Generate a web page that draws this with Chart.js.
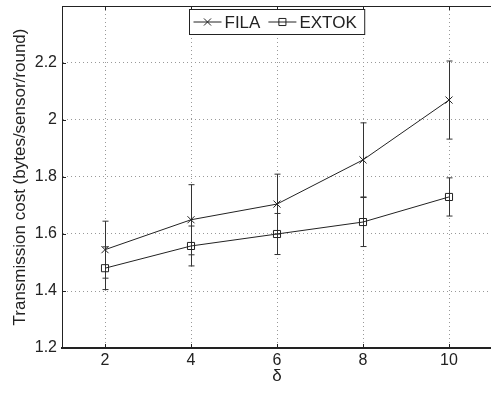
<!DOCTYPE html>
<html>
<head>
<meta charset="utf-8">
<script src="https://cdn.jsdelivr.net/npm/chart.js@4.4.1/dist/chart.umd.min.js"></script>
<style>
  html, body { margin: 0; padding: 0; overflow: hidden; background: #fff; }
  #wrap { width: 498px; height: 393px; }
</style>
</head>
<body>
<div id="wrap"><canvas id="chart1"></canvas></div>
<script>
// values
const deltas = [2, 4, 6, 8, 10];
const filaCost = [1.545, 1.65, 1.705, 1.86, 2.07];
const filaErr = [0.10, 0.123, 0.105, 0.13, 0.137];
const extokCost = [1.48, 1.558, 1.60, 1.642, 1.73];
const extokErr = [0.075, 0.07, 0.072, 0.086, 0.067];
const xTicks = [2, 4, 6, 8, 10];
const yTicks = [1.2, 1.4, 1.6, 1.8, 2, 2.2];

const FONT = "'Liberation Sans', Arial, Helvetica, sans-serif";
const INK = '#222';

function toPoints(ys) {
    return deltas.map((d, i) => ({ x: d, y: ys[i] }));
}

// vertical error bars with caps, drawn below the markers
const errorBars = {
    id: 'errorBars',
    beforeDatasetsDraw(chart) {
        const ctx = chart.ctx;
        const xs = chart.scales.x, ys = chart.scales.y;
        const sets = [[filaCost, filaErr], [extokCost, extokErr]];
        ctx.save();
        ctx.strokeStyle = '#333';
        ctx.lineWidth = 1;
        sets.forEach(([vals, errs]) => {
            deltas.forEach((d, i) => {
                const px = Math.round(xs.getPixelForValue(d)) + 0.5;
                const top = ys.getPixelForValue(vals[i] + errs[i]);
                const bot = ys.getPixelForValue(vals[i] - errs[i]);
                ctx.beginPath();
                ctx.moveTo(px, top); ctx.lineTo(px, bot);
                ctx.moveTo(px - 3, top); ctx.lineTo(px + 3, top);
                ctx.moveTo(px - 3, bot); ctx.lineTo(px + 3, bot);
                ctx.stroke();
            });
        });
        ctx.restore();
    }
};

// top border, inward tick marks and the boxed legend
const frame = {
    id: 'frame',
    afterDraw(chart) {
        const ctx = chart.ctx;
        const a = chart.chartArea;
        const xs = chart.scales.x, ys = chart.scales.y;
        ctx.save();
        ctx.strokeStyle = INK;
        ctx.lineWidth = 1;
        ctx.beginPath();
        ctx.moveTo(a.left, a.top + 0.5); ctx.lineTo(a.right, a.top + 0.5);
        xTicks.forEach(v => {
            const px = Math.round(xs.getPixelForValue(v)) + 0.5;
            ctx.moveTo(px, a.bottom); ctx.lineTo(px, a.bottom - 4);
            ctx.moveTo(px, a.top); ctx.lineTo(px, a.top + 4);
        });
        yTicks.forEach(v => {
            const py = Math.round(ys.getPixelForValue(v)) + 0.5;
            ctx.moveTo(a.left, py); ctx.lineTo(a.left + 4, py);
        });
        ctx.stroke();

        // legend
        ctx.font = '17px ' + FONT;
        const names = chart.data.datasets.map(ds => ds.label);
        const widths = names.map(n => ctx.measureText(n).width);
        const sample = 28, pad = 4, gap = 3, between = 8;
        const boxW = pad + sample + gap + widths[0] + between + sample + gap + widths[1] + pad + 4;
        const boxX = Math.round((a.left + a.right) / 2 - boxW / 2) + 0.5;
        const boxY = 9.5, boxH = 25;
        const cy = boxY + boxH / 2;
        ctx.fillStyle = '#fff';
        ctx.fillRect(boxX, boxY, boxW, boxH);
        ctx.strokeRect(boxX, boxY, boxW, boxH);
        let x = boxX + pad;
        chart.data.datasets.forEach((ds, i) => {
            ctx.beginPath();
            ctx.moveTo(x, cy); ctx.lineTo(x + sample, cy);
            ctx.stroke();
            ctx.fillStyle = 'rgba(0,0,0,0)';
            Chart.helpers.drawPoint(ctx, { pointStyle: ds.pointStyle, radius: ds.pointRadius, rotation: 0, borderWidth: 1 }, x + sample / 2, cy);
            ctx.fillStyle = INK;
            ctx.textBaseline = 'middle';
            ctx.textAlign = 'left';
            ctx.fillText(names[i], x + sample + gap, cy + 1);
            x += sample + gap + widths[i] + between;
        });
        ctx.restore();
    }
};

window.addEventListener('DOMContentLoaded', () => {
    const ctx1 = document.getElementById('chart1').getContext('2d');
    new Chart(ctx1, {
        type: 'line',
        data: {
            datasets: [{
                label: 'FILA',
                data: toPoints(filaCost),
                borderColor: INK,
                borderWidth: 1,
                pointStyle: 'crossRot',
                pointRadius: 5,
                pointBorderColor: INK,
                pointBackgroundColor: 'rgba(0,0,0,0)',
                tension: 0
            }, {
                label: 'EXTOK',
                data: toPoints(extokCost),
                borderColor: INK,
                borderWidth: 1,
                pointStyle: 'rect',
                pointRadius: 5,
                pointBorderColor: INK,
                pointBackgroundColor: 'rgba(0,0,0,0)',
                tension: 0
            }]
        },
        options: {
            responsive: true,
            maintainAspectRatio: false,
            animation: false,
            layout: { padding: { left: 0, top: 4, right: 0, bottom: 0 } },
            plugins: {
                legend: { display: false },
                tooltip: { enabled: false }
            },
            scales: {
                x: {
                    type: 'linear',
                    min: 1,
                    max: 11,
                    afterBuildTicks: axis => { axis.ticks = xTicks.map(v => ({ value: v })); },
                    afterFit: axis => {
                        axis.height = 45;
                        axis.paddingLeft = 0;
                        axis.paddingRight = 0;
                    },
                    grid: { color: '#999', drawTicks: false },
                    border: { color: INK, width: 2, dash: [1, 3] },
                    ticks: {
                        padding: 3,
                        color: INK,
                        font: { family: FONT, size: 16 },
                        callback: v => String(v)
                    },
                    title: {
                        display: true,
                        text: 'δ',
                        color: INK,
                        font: { family: FONT, size: 17 },
                        padding: { top: 0, bottom: 6 }
                    }
                },
                y: {
                    min: 1.2,
                    max: 2.4,
                    afterBuildTicks: axis => { axis.ticks = yTicks.map(v => ({ value: v })); },
                    afterFit: axis => {
                        axis.width = 62;
                        axis.paddingTop = 0;
                        axis.paddingBottom = 0;
                    },
                    grid: { color: '#999', drawTicks: false },
                    border: { color: INK, width: 1, dash: [1, 3] },
                    ticks: {
                        padding: 5,
                        color: INK,
                        font: { family: FONT, size: 16 },
                        callback: v => String(v)
                    },
                    title: {
                        display: true,
                        text: 'Transmission cost (bytes/sensor/round)',
                        color: INK,
                        font: { family: FONT, size: 17 },
                        padding: { top: 10, bottom: 0 }
                    }
                }
            }
        },
        plugins: [errorBars, frame]
    });
});
</script>
</body>
</html>
